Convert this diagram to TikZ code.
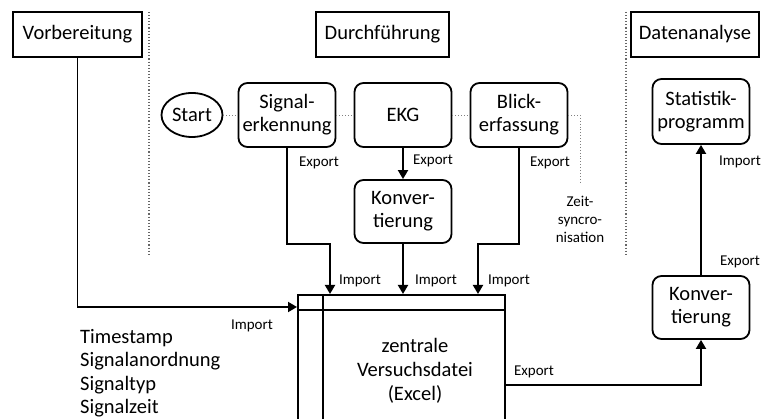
\documentclass[tikz,border=0pt]{standalone}
\usepackage{fontspec}
\setmainfont{Carlito}
\usetikzlibrary{arrows.meta,shapes.geometric,calc}
\begin{document}
\begin{tikzpicture}[x=1pt,y=-1pt,
  big/.style={font=\fontsize{20.5}{23}\selectfont,align=center,inner sep=0pt},
  small/.style={font=\fontsize{15}{18}\selectfont,inner sep=0pt},
  head/.style={big,draw,line width=1.8pt,minimum height=45pt},
  rbox/.style={big,draw,line width=1.8pt,rounded corners=9pt,minimum width=97pt,minimum height=64pt},
  arr/.style={line width=1.8pt,-{Triangle[length=9pt,width=10pt]}},
  ln/.style={line width=1.8pt},
  dots/.style={gray,line width=0.9pt,dotted},
  divider/.style={black!60,line width=1.1pt,dotted}]
\clip (0,0) rectangle (761,419);
\useasboundingbox (0,0) rectangle (761,419);
% headers
\node[head,minimum width=129pt] (vorb) at (77.5,34.5) {Vorbereitung};
\node[head,minimum width=133pt] (durch) at (382.5,34.5) {Durchführung};
\node[head,minimum width=128pt] (daten) at (695,34.5) {Datenanalyse};
% dividers
\coordinate (d1a) at (149,12); \coordinate (d1b) at (149,255);
\coordinate (d2a) at (626,12); \coordinate (d2b) at (626,255);
\draw[divider] (d1a) -- (d1b);
\draw[divider] (d2a) -- (d2b);
% process nodes
\node[big,draw,ellipse,line width=1.8pt,minimum width=61pt,minimum height=44pt] (start) at (192,115) {Start};
\node[rbox] (sig) at (287,115) {Signal-\\erkennung};
\node[rbox] (ekg) at (403,115) {EKG};
\node[rbox] (blick) at (519,115) {Blick-\\erfassung};
\node[rbox,minimum height=63pt] (konv1) at (403,211.5) {Konver-\\tierung};
\node[rbox,minimum height=65pt] (stat) at (701,111.5) {Statistik-\\programm};
\node[rbox,minimum height=63pt] (konv2) at (701,307.5) {Konver-\\tierung};
% central file
\node[draw,line width=1.8pt,minimum width=207pt,minimum height=150pt,anchor=north west,inner sep=0pt] (file) at (297,294) {};
\draw[ln] ([yshift=-16pt]file.north west) -- ([yshift=-16pt]file.north east);
\draw[ln] ([xshift=26pt]file.north west) -- ([xshift=26pt]file.south west);
\node[big,text depth=0pt,font=\fontsize{20.5}{24}\selectfont] (filetext) at (415,369) {zentrale\\Versuchsdatei\\(Excel)};
% left list
\node[big,align=left,anchor=west,font=\fontsize{20.5}{23.5}\selectfont] (list) at (80,373) {Timestamp\\Signalanordnung\\Signaltyp\\Signalzeit};
% dotted connectors
\draw[dots] (start) -- (sig);
\draw[dots] (sig) -- (ekg);
\draw[dots] (ekg) -- (blick);
\coordinate (zs) at (580,182);
\draw[dots] (blick.east) -| (zs);
\node[small,align=center,font=\fontsize{15}{18}\selectfont] (zeit) at (580,219) {Zeit-\\syncro-\\nisation};
% arrows
\draw[arr] (vorb.south) |- ([yshift=-13pt]file.north west);
\draw[arr] (sig.south) -- (sig.south |- konv1.south) -| ([xshift=33pt]file.north west);
\draw[arr] (ekg) -- (konv1);
\draw[arr] (konv1.south) -- (konv1.south |- file.north);
\draw[arr] (blick.south) -- (blick.south |- konv1.south) -| ([xshift=181pt]file.north west);
\draw[arr] ([yshift=-91pt]file.north east) -| (konv2.south);
\draw[arr] (konv2) -- (stat);
% labels
\node[small] (l1) at (319,163) {Export};
\node[small] (l2) at (433,161) {Export};
\node[small] (l3) at (550,163) {Export};
\node[small] (l4) at (360,281) {Import};
\node[small] (l5) at (436,281) {Import};
\node[small] (l6) at (509,281) {Import};
\node[small] (l7) at (252,326) {Import};
\node[small] (l8) at (534,372) {Export};
\node[small] (l9) at (740,262) {Export};
\node[small] (l10) at (740,162) {Import};
\end{tikzpicture}
\end{document}
